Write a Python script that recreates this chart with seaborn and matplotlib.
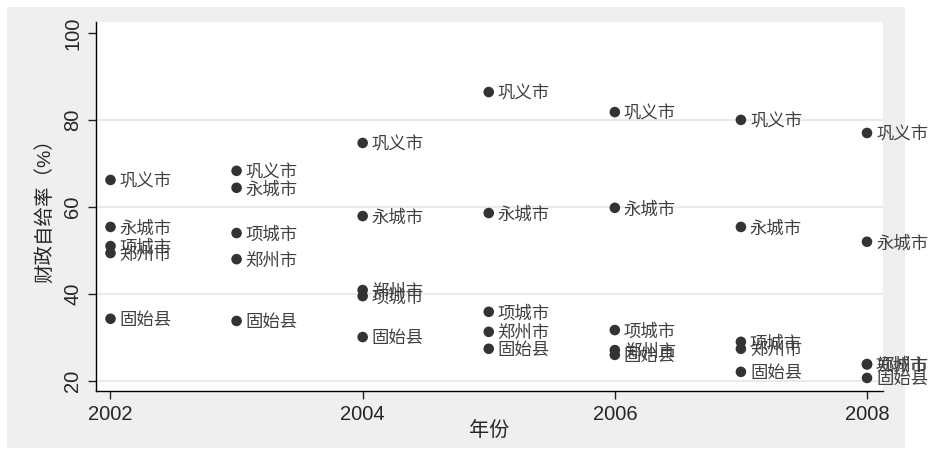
import matplotlib
matplotlib.use("Agg")
import matplotlib.pyplot as plt
import seaborn as sns
import pandas as pd
from matplotlib.patches import Rectangle

years = [2002, 2003, 2004, 2005, 2006, 2007, 2008]
cities = ["巩义市", "永城市", "项城市", "郑州市", "固始县"]
gongyi = [66.2, 68.3, 74.7, 86.4, 81.8, 80.0, 77.0]
yongcheng = [55.4, 64.4, 57.9, 58.6, 59.8, 55.4, 52.0]
xiangcheng = [51.0, 54.0, 39.5, 35.9, 31.7, 29.0, 23.9]
zhengzhou = [49.4, 48.0, 40.9, 31.3, 27.1, 27.4, 23.8]
gushi = [34.3, 33.8, 30.1, 27.4, 26.0, 22.1, 20.7]
yticks = [20, 40, 60, 80, 100]
xticks = [2002, 2004, 2006, 2008]
xlabel = "年份"
ylabel = "财政自给率（%）"

series = [gongyi, yongcheng, xiangcheng, zhengzhou, gushi]
rows = []
for c, vals in zip(cities, series):
    for y, v in zip(years, vals):
        rows.append({"年份": y, "值": v, "城市": c})
df = pd.DataFrame(rows)

sns.set_theme(style="white")
plt.rcParams["font.family"] = ["Liberation Sans", "Noto Sans CJK SC", "DejaVu Sans"]

W, H = 934, 449
fig = plt.figure(figsize=(W / 100, H / 100), dpi=100, facecolor="white")
bg = Rectangle((7 / W, 1 / H), (905 - 7) / W, (442 - 1) / H,
               transform=fig.transFigure, facecolor="#efefef",
               edgecolor="none", zorder=-10)
fig.patches.append(bg)
ax = fig.add_axes([96 / W, 1 - 391 / H, (883 - 96) / W, (391 - 22) / H])
ax.set_zorder(1)
ax.set_facecolor("white")

sns.scatterplot(data=df, x="年份", y="值", ax=ax, color="#333333", s=58,
                edgecolor="none", legend=False, zorder=3, clip_on=False)

for _, r in df.iterrows():
    ax.annotate(r["城市"], (r["年份"], r["值"]), xytext=(6.5, -1),
                textcoords="offset points", va="center", ha="left",
                fontsize=12.5, color="#404040", annotation_clip=False,
                zorder=4)

ax.set_xlim(2001.885, 2008.127)
ax.set_ylim(17.7, 102.5)
ax.set_xticks(xticks)
ax.set_xticklabels([str(x) for x in xticks], fontsize=14.5)
ax.set_yticks(yticks)
ax.set_yticklabels([str(y) for y in yticks], fontsize=14.5, rotation=90, va="center")
ax.set_xlabel(xlabel, fontsize=14.5, labelpad=-2)
ax.set_ylabel(ylabel, fontsize=14, labelpad=6)

ax.grid(axis="y", color="#eaeaea", linewidth=1.5, zorder=0)
ax.yaxis.get_gridlines()[-1].set_visible(False)
ax.set_axisbelow(True)
for s in ["top", "right"]:
    ax.spines[s].set_visible(False)
for s in ["left", "bottom"]:
    ax.spines[s].set_color("black")
    ax.spines[s].set_linewidth(1.0)
ax.tick_params(axis="both", direction="out", length=6, width=1, color="#222222",
               bottom=True, left=True, pad=4)

fig.savefig("out.png", dpi=100, facecolor="white")
